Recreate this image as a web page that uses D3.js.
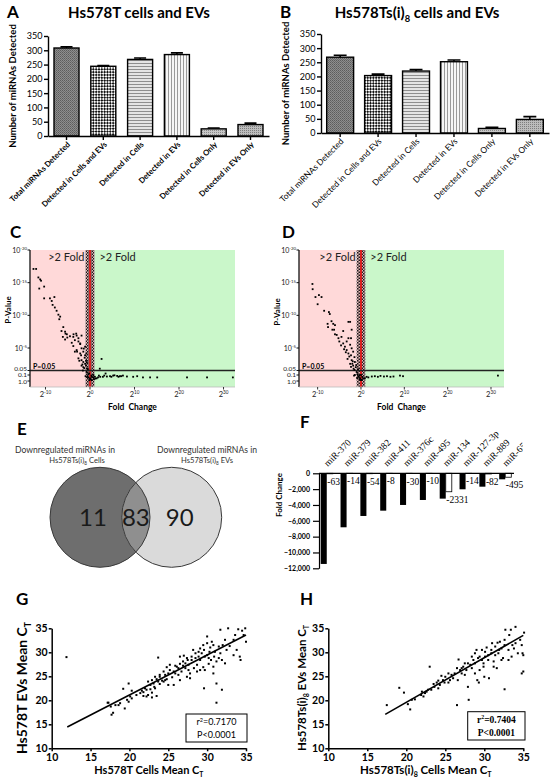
<!DOCTYPE html>
<html><head><meta charset="utf-8">
<script src="https://cdn.jsdelivr.net/npm/d3@7"></script>
<style>body{margin:0;background:#fff} svg{display:block}</style>
</head><body><svg id="c" width="550" height="779"></svg>
<script>
// ---------------- DATA ----------------
const barCats = ["Total miRNAs Detected","Detected in Cells and EVs","Detected in Cells","Detected in EVs","Detected in Cells Only","Detected in EVs Only"];
const barA = [308,244,268,285,25,40];
const errA = [4,3,5,6,3,5];
const barB = [268,203,219,252,16,48];
const errB = [7,5,5,6,4,10];
const barTicks = [0,50,100,150,200,250,300,350];

// volcano: [log2 fold change, -log10 p]
const volcC = [
[-12.7,17.1],[-12.1,17.1],[-11.6,15.8],[-11.2,15.5],[-11.0,15.3],[-11.4,14.1],[-10.3,14.4],[-10.3,12.6],[-9.0,12.6],[-8.0,12.8],[-8.6,12.2],[-8.4,11.6],[-7.9,11.2],[-7.5,10.7],[-7.1,10.1],[-6.7,9.8],[-6.9,9.4],[-6.0,8.2],[-5.6,7.5],[-5.2,7.1],[-6.1,6.7],[-5.6,6.3],[-3.75,6.7],[-3.0,6.9],[-1.9,6.9],[-3.4,6.2],[-2.6,6.0],[-2.2,5.6],
[-6.4,7.6],[-5.5,7.2],[-5.1,6.6],[-4.5,6.8],[-3.7,7.1],[-3.1,7.2],[-2.6,6.5],[-4.1,5.8],[-3.75,5.3],[-2.2,5.7],[-1.9,4.95],[-3.0,4.66],[-3.4,4.4],[-2.2,4.1],[-1.5,4.4],[-1.1,3.8],[-2.6,3.3],[-1.9,3.0],[-1.5,2.7],[-1.1,2.4],[-0.9,2.1],[-1.9,2.1],[-1.5,1.85],[-0.6,1.6],[-0.75,1.2],[-0.4,1.05],[-0.6,0.7],[0,0.45],[0.4,0.7],[0.75,1.0],[1.1,0.7],[-0.15,0.15],[0.4,0.15],[1.5,0.45],
[-1.2,3.4],[-0.9,2.9],[-1.7,2.3],[-0.7,2.6],[-1.3,1.7],[-0.5,1.5],[-0.2,1.1],[0.3,0.9],[-1.0,0.8],[-0.4,0.6],[0.1,0.3],[0.7,0.6],[1.2,0.4],[-1.6,1.3],[-2.4,2.9],[-2.0,3.8],[-2.9,4.4],[-1.4,4.9],[-0.8,4.1],[-1.1,5.2],
[2.6,3.2],[2.2,1.6],[3.5,1.1],[2.0,0.9],[1.8,0.6],[2.3,0.7],[3.2,0.9],[3.8,0.75],[4.8,0.7],[5.5,0.95],[6.4,0.7],[7.0,0.8],[0.9,0.3],
[2.9,0.7],[4.5,0.8],[5.2,0.9],[6.1,0.85],[6.7,0.8],[7.4,0.9],[8.3,0.75],[9.7,0.7],[10.6,0.8],[11.9,0.6],[13.5,0.6],[15.1,0.6],[21.8,0.6],[26.3,0.6],[32.1,0.6]
];
const volcD = [
[-11.2,14.8],[-11.15,14.0],[-10.5,12.8],[-9.7,13.1],[-9.1,12.8],[-10.0,11.7],[-8.5,10.7],[-7.4,10.5],[-7.2,10.2],[-6.8,9.1],[-6.4,8.7],[-6.0,8.5],[-7.7,8.7],[-7.6,8.2],[-6.6,7.8],[-6.0,7.1],[-5.2,6.5],[-4.1,7.6],[-2.5,9.0],
[-6.2,7.8],[-5.6,7.0],[-4.5,6.7],[-4.1,5.7],[-3.7,5.2],[-3.3,6.0],[-2.9,6.5],[-2.5,5.5],[-2.15,4.95],[-3.3,4.66],[-2.9,4.1],[-2.3,3.8],[-1.8,4.4],[-1.5,3.5],[-2.15,3.0],[-1.4,2.7],[-2.5,2.4],[-1.8,2.1],[-1.2,1.85],[-1.5,1.4],[-1.0,1.2],[-1.4,1.0],[-0.8,1.05],[-0.6,0.7],[-0.2,0.45],[0,1.0],[0.3,0.7],[0.5,0.45],[0,0.15],[0.9,0.45],[1.3,0.7],[1.7,0.6],
[-5.0,6.0],[-4.6,5.4],[-3.9,4.8],[-3.5,4.3],[-2.7,3.6],[-3.1,3.2],[-2.0,2.4],[-1.7,1.6],[-2.3,1.9],[-1.9,2.8],[-1.1,2.2],[-0.7,1.5],[-0.4,0.9],[-0.9,0.5],[-1.6,0.9],[0.2,0.2],[-0.3,0.3],
[-2.9,9.0],[-2.3,6.5],[-2.15,7.8],
[2.5,0.75],[3.2,0.8],[3.9,0.7],[4.5,0.85],[5.3,0.75],[6.0,0.8],[6.8,0.7],[7.5,0.75],[9.0,0.9],[9.7,0.8],[31.6,0.9]
];
const volcXTicks = [-10,0,10,20,30];
const volcYExpTicks = [20,15,10,5];
const volcYLowTicks = [1.301,1,0];
const volcYLowLabels = ["0.05","0.1","1.0"];

// Venn
const vennCounts = [11,83,90];

// F
const fCats = ["miR-370","miR-379","miR-382","miR-411","miR-376c","miR-495","miR-134","miR-127-3p","miR-889","miR-654-3p"];
const fCells = [-11450,-6820,-5390,-4720,-4000,-3370,-3200,-2020,-1690,-760];
const fEVs = [-63,-14,-54,-8,-30,-10,-2331,-14,-82,-495];
const fTicks = [0,-2000,-4000,-6000,-8000,-10000,-12000];

// G, H : [cells mean CT, EVs mean CT]
const ptsG = [
[11.9,29.0],[17.2,19.5],[17.6,18.7],[17.7,17.0],[18.2,19.0],[18.8,19.4],[19.2,22.4],[19.9,23.5],[19.9,19.7],[20.3,20.4],[20.9,21.1],
[23.7,28.9],[27.0,29.3],[30.0,33.3],[30.6,32.2],[31.7,34.7],[32.7,35.0],[33.4,32.6],[34.0,34.8],[34.5,34.5],[34.9,35.0],[34.7,33.6],[35.0,32.2],[34.2,29.1],[34.3,28.4],[33.4,29.4],[32.5,30.5],[32.3,27.7],
[29.6,22.5],[31.2,23.5],[31.9,22.2],[31.2,19.5],[29.7,26.3],[30.8,25.6],[28.7,26.0],[27.8,24.6],[25.7,23.2],[25.0,23.2],[26.5,24.2],[27.6,26.3],[27.2,27.7],[26.1,27.0],[25.2,26.3],[24.6,25.3],[23.9,24.9],[23.5,24.4],[23.1,23.5],[22.7,23.2],[22.2,22.2],[21.8,21.7],[22.4,21.1],[22.9,21.6],[23.3,22.5],[21.4,21.5],[22.2,20.8],[22.9,20.6],[23.5,20.9],[23.9,23.4],[24.4,23.9],[24.8,24.4],[25.5,24.8],[25.9,25.6],[26.3,25.3],[26.7,26.0],[27.2,26.7],[27.6,27.4],[28.0,28.4],[28.5,28.8],[28.9,29.1],[29.3,29.8],[29.6,30.5],[30.0,29.4],[30.3,30.1],[30.5,28.4],[30.9,29.1],[31.2,28.1],[31.5,31.2],[31.7,29.8],[32.0,31.5],[32.3,32.6],[32.9,31.3],[33.6,33.6],[33.8,30.5],
[29.1,28.4],[28.7,27.4],[28.3,26.7],[27.8,25.6],[27.4,24.9],[26.9,27.2],[26.3,26.7],[25.7,26.0],[25.0,25.6],[24.6,24.2],[24.2,24.1],[23.7,23.9],[23.2,22.8],[22.7,22.3],[21.8,20.9],[19.7,20.1],[20.1,20.8],[20.3,22.0],[19.4,18.3],[18.6,19.0],[17.9,17.4],[17.3,19.5],
[29.1,30.8],[28.5,29.8],[28.0,29.1],[27.5,28.4],[26.9,28.1],[26.5,27.6],[28.2,30.5],[28.9,30.1],[29.5,31.5],[30.0,31.9],[30.4,31.0],[30.8,31.5],[31.0,30.1],[31.5,28.8],[31.9,28.4],[30.8,27.0],[30.2,27.6],[29.5,26.9],[29.1,26.3],[30.2,28.8],[29.7,29.1],[26.5,29.1],[27.4,28.8],[25.2,27.4],[25.9,27.2],[24.4,26.0],[23.9,25.3],[24.8,26.9],[23.3,24.9],[22.9,24.2],[22.4,23.9],[22.0,22.5],[21.6,22.0]
];
const ptsH = [
[17.5,19.0],[19.1,22.6],[19.7,21.6],[20.2,19.2],[20.5,18.1],[20.7,20.1],[21.1,20.2],[21.9,21.1],[22.2,20.8],[22.6,21.8],[23.0,27.0],[23.2,22.2],[23.6,22.8],[23.9,23.7],[24.1,22.5],[24.3,23.2],[24.7,24.2],[25.0,24.9],[25.4,23.7],[25.6,24.2],[25.8,25.3],[26.2,25.6],[26.5,19.0],[26.6,24.2],[26.7,28.5],[26.9,26.3],[27.1,25.6],[27.3,27.0],[27.5,25.3],[27.7,26.3],[27.9,22.8],[28.0,20.1],[28.2,27.4],[28.4,26.7],[28.6,28.4],[28.8,27.7],[29.0,30.5],[29.1,24.2],[29.3,23.7],[29.4,29.1],[29.7,30.5],[29.9,27.7],[30.0,24.9],[30.1,29.1],[30.3,31.0],[30.5,28.4],[30.6,24.6],[30.9,29.8],[31.0,31.9],[31.2,28.1],[31.4,29.4],[31.6,26.7],[31.7,32.0],[31.9,30.5],[32.0,32.2],[32.2,28.4],[32.4,28.8],[32.6,31.5],[32.6,22.3],[32.7,34.7],[33.1,30.5],[33.2,33.6],[33.4,34.7],[33.6,31.5],[33.8,30.8],[34.0,35.3],[34.3,29.8],[34.6,32.6],[34.8,31.5],[34.9,29.8],[35.0,29.4],[34.8,25.6],[35.0,26.0],[35.1,34.1],
[27.9,27.7],[28.4,29.1],[28.8,29.8],[29.2,28.8],[29.7,28.4],[30.1,30.1],[30.5,29.4],[30.9,30.5],[31.4,31.2],[31.8,29.8],[32.2,30.8],[32.6,32.6],[26.0,24.6],[26.5,26.7],[27.1,26.7],[27.5,27.7],[25.4,25.6],[24.5,25.1],[24.9,23.7],[24.1,24.1],[23.5,23.4],[22.8,22.2],[22.4,21.5],[22.0,21.8],[33.1,28.4],[33.5,29.1],[34.0,31.9],[29.4,26.3],[29.9,27.0],[28.8,25.6],[31.2,27.0]
];
const ctTicks = [10,15,20,25,30,35];
const fitG = [0.832, 4.47, 12, 35];   // slope, intercept, x from, x to
const fitH = [0.93, 0.97, 17.3, 35];
const statG = ["r²=0.7170","P<0.0001"];
const statH = ["r²=0.7404","P<0.0001"];

// ---------------- DRAW ----------------
const SANS = "Lato, 'Open Sans', 'Liberation Sans', sans-serif";
const SERIF = "'Liberation Serif', 'DejaVu Serif', serif";
const svg = d3.select("#c");
svg.append("rect").attr("width",550).attr("height",779).attr("fill","#fff");
const defs = svg.append("defs");
function addPat(id,w,h,bg,rects,rot){
  const p = defs.append("pattern").attr("id",id).attr("patternUnits","userSpaceOnUse").attr("width",w).attr("height",h);
  if(rot) p.attr("patternTransform",`rotate(${rot})`);
  p.append("rect").attr("width",w).attr("height",h).attr("fill",bg);
  rects.forEach(r=>p.append("rect").attr("x",r[0]).attr("y",r[1]).attr("width",r[2]).attr("height",r[3]).attr("fill",r[4]));
}
addPat("pTotal",2,2,"#8e8e8e",[[0,0,1,1,"#5c5c5c"],[1,1,1,1,"#6c6c6c"]]);
addPat("pCheck",4,4,"#fff",[[0,0,2,2,"#111"],[2,2,2,2,"#111"]],45);
addPat("pHoriz",3,3,"#e4e4e4",[[0,0,3,1,"#8e8e8e"]]);
addPat("pVert",3,3,"#f6f6f6",[[0,0,1,3,"#9a9a9a"]]);
addPat("pDots",2,2,"#c6c6c6",[[0,0,1,1,"#8a8a8a"]]);
addPat("pDots2",2,2,"#bcbcbc",[[0,0,1,1,"#7e7e7e"]]);
addPat("pBand",3,3,"#e6b8b8",[[0,0,1.5,1.5,"#1a1a1a"],[1.5,1.5,1.5,1.5,"#1a1a1a"]]);
const barPats = ["pTotal","pCheck","pHoriz","pVert","pDots","pDots2"];

function letter(t,x,y){ svg.append("text").attr("x",x).attr("y",y).text(t).attr("font-family",SANS).attr("font-weight",700).attr("font-size",17).attr("fill","#000"); }
function rich(sel, parts, size){
  let shift = 0;
  parts.forEach(p=>{
    const ts = sel.append("tspan").text(p[0]);
    const want = p[1]==="sub" ? size*0.28 : p[1]==="sup" ? -size*0.38 : 0;
    ts.attr("dy", want - shift); shift = want;
    if(p[1]) ts.attr("font-size", size*0.62);
  });
  return sel;
}
function styleAxis(g, sw, fs, fw, fam){
  g.attr("font-family",fam).attr("font-size",fs).attr("font-weight",fw);
  g.selectAll("path.domain").attr("stroke","#000").attr("stroke-width",sw);
  g.selectAll(".tick line").attr("stroke","#000").attr("stroke-width",sw);
  g.selectAll(".tick text").attr("fill","#000");
}

// ----- A / B bar panels
function barPanel(o){
  const g = svg.append("g");
  const y = d3.scaleLinear().domain([0,350]).range([o.yBase,o.yTop]);
  const x = d3.scaleBand().domain(barCats).range([o.xAxis,o.xEnd]).paddingInner(o.pi).paddingOuter(o.po);
  g.selectAll(".bar").data(o.vals).join("rect")
    .attr("x",(d,i)=>x(barCats[i])).attr("y",d=>y(d)).attr("width",x.bandwidth()).attr("height",d=>y(0)-y(d))
    .attr("fill",(d,i)=>`url(#${barPats[i]})`).attr("stroke","#000").attr("stroke-width",1.4);
  const cap = x.bandwidth()*0.48;
  g.selectAll(".eb").data(o.vals).join("path")
    .attr("d",(d,i)=>{const cx=x(barCats[i])+x.bandwidth()/2, t=y(d+o.errs[i]); return `M${cx},${y(d)}V${t}M${cx-cap/2},${t}H${cx+cap/2}`;})
    .attr("stroke","#000").attr("stroke-width",1.6).attr("fill","none");
  const ya = g.append("g").attr("transform",`translate(${o.xAxis},0)`)
    .call(d3.axisLeft(y).tickValues(barTicks).tickSize(4).tickSizeOuter(0).tickPadding(1.5));
  styleAxis(ya,1.4,9,400,SANS);
  const xa = g.append("g").attr("transform",`translate(0,${y(0)})`)
    .call(d3.axisBottom(x).tickSize(4).tickSizeOuter(0).tickFormat(""));
  styleAxis(xa,1.4,9,400,SANS);
  g.selectAll(".xl").data(barCats).join("text")
    .attr("transform",d=>`translate(${x(d)+x.bandwidth()/2+4},${y(0)+9}) rotate(-45)`)
    .attr("text-anchor","end").attr("font-family",SANS).attr("font-size",o.xls).attr("font-weight",o.xlw).text(d=>d);
  g.append("text").attr("transform",`translate(${o.xAxis-32},${(o.yBase+o.yTop)/2}) rotate(-90)`)
    .attr("text-anchor","middle").attr("font-family",SANS).attr("font-weight",700).attr("font-size",9.5).text("Number of miRNAs Detected");
}
barPanel({vals:barA,errs:errA,yBase:136,yTop:36,xAxis:48,xEnd:269,pi:0.32,po:0.163,xlw:700,xls:7.8});
barPanel({vals:barB,errs:errB,yBase:133,yTop:34,xAxis:321,xEnd:549,pi:0.29,po:0.15,xlw:400,xls:8.4});
letter("A",7,18); letter("B",280,18);
svg.append("text").attr("x",139).attr("y",18).attr("text-anchor","middle").attr("font-family",SANS).attr("font-weight",700).attr("font-size",15).text("Hs578T cells and EVs");
rich(svg.append("text").attr("x",417).attr("y",18).attr("text-anchor","middle").attr("font-family",SANS).attr("font-weight",700).attr("font-size",15),
  [["Hs578Ts(i)"],["8","sub"],[" cells and EVs"]],15);

// ----- C / D volcano
const lpKnots = [0,1,1.301,5,20];
function volcano(o){
  const g = svg.append("g");
  const x = d3.scaleLinear().domain(o.xdom).range([o.xl,o.xr]);
  const y = d3.scaleLinear().domain(lpKnots).range([381,375,370.5,348,250]);
  const top = y(20), bot = 387;
  g.append("rect").attr("x",o.xl).attr("y",top).attr("width",x(-1)-o.xl).attr("height",bot-top).attr("fill","#ffd9d9");
  g.append("rect").attr("x",x(1)).attr("y",top).attr("width",o.xr-x(1)).attr("height",bot-top).attr("fill","#caf7ca");
  g.append("rect").attr("x",x(-1)).attr("y",top).attr("width",x(1)-x(-1)).attr("height",bot-top).attr("fill","url(#pBand)");
  g.append("line").attr("x1",x(0)).attr("x2",x(0)).attr("y1",top).attr("y2",bot).attr("stroke","#d92020").attr("stroke-width",2);
  g.append("text").attr("x",x(-1)-1).attr("y",top+11).attr("text-anchor","end").attr("font-family",SANS).attr("font-size",11).attr("fill","#222").text(">2 Fold");
  g.append("text").attr("x",x(1)+5).attr("y",top+11).attr("font-family",SANS).attr("font-size",11).attr("fill","#222").text(">2 Fold");
  g.append("line").attr("x1",o.xl).attr("x2",o.xr).attr("y1",y(1.301)).attr("y2",y(1.301)).attr("stroke","#222").attr("stroke-width",1.6);
  g.append("text").attr("x",o.xl+3).attr("y",y(1.301)-2).attr("font-family",SANS).attr("font-weight",700).attr("font-size",7).text("P=0.05");
  g.selectAll(".pt").data(o.data).join("rect").attr("x",d=>x(d[0])-0.9).attr("y",d=>y(d[1])-0.9).attr("width",1.8).attr("height",1.8).attr("fill","#000");
  // y axis
  g.append("line").attr("x1",o.xl).attr("x2",o.xl).attr("y1",top).attr("y2",bot).attr("stroke","#111").attr("stroke-width",1.3);
  const lowDy = [0,2,2.6];
  const yt = volcYExpTicks.map(v=>({v,dy:2.5,fs:7,lab:[["10"],["-"+v,"sup"]]})).concat(volcYLowTicks.map((v,i)=>({v,dy:lowDy[i],fs:6.5,lab:[[volcYLowLabels[i]]]})));
  yt.forEach(t=>{
    g.append("line").attr("x1",o.xl-2.5).attr("x2",o.xl).attr("y1",y(t.v)).attr("y2",y(t.v)).attr("stroke","#111");
    rich(g.append("text").attr("x",o.xl-3).attr("y",y(t.v)+t.dy).attr("text-anchor","end").attr("font-family",SANS).attr("font-size",t.fs).attr("fill","#222"),t.lab,t.fs);
  });
  // x axis
  g.append("line").attr("x1",o.xl).attr("x2",o.xr).attr("y1",bot).attr("y2",bot).attr("stroke","#bbb").attr("stroke-width",0.8);
  volcXTicks.forEach(v=>{
    g.append("line").attr("x1",x(v)).attr("x2",x(v)).attr("y1",bot).attr("y2",bot+2.5).attr("stroke","#333");
    rich(g.append("text").attr("x",x(v)).attr("y",bot+10).attr("text-anchor","middle").attr("font-family",SANS).attr("font-size",7.5).attr("fill","#222"),[["2"],[String(v),"sup"]],7.5);
  });
  g.append("text").attr("x",(o.xl+o.xr)/2).attr("y",410).attr("text-anchor","middle").attr("font-family",SANS).attr("font-weight",700).attr("font-size",8.5).attr("word-spacing",2).text("Fold Change");
  g.append("text").attr("transform",`translate(${o.xl-19},${o.ylab}) rotate(-90)`).attr("text-anchor","middle").attr("font-family",SANS).attr("font-weight",700).attr("font-size",8).text("P-Value");
}
volcano({data:volcC,xdom:[-13.48,32.58],xl:30,xr:235,ylab:310});
volcano({data:volcD,xdom:[-14.3,33.0],xl:299,xr:504,ylab:312});
letter("C",10,238); letter("D",282,238);

// ----- E Venn
letter("E",17,435);
{
  const g = svg.append("g");
  const r = 50, cy = 517.3, cL = 100, cR = 171.7;
  const circ = [{cx:cL,fill:"#6e6e6e"},{cx:cR,fill:"#dadada"}];
  defs.append("clipPath").attr("id","clipL").append("circle").attr("cx",cL).attr("cy",cy).attr("r",r);
  g.selectAll(".vc").data(circ).join("circle").attr("cx",d=>d.cx).attr("cy",cy).attr("r",r).attr("fill",d=>d.fill);
  g.append("circle").attr("cx",cR).attr("cy",cy).attr("r",r).attr("fill","#8f8f8f").attr("clip-path","url(#clipL)");
  g.selectAll(".vs").data(circ).join("circle").attr("cx",d=>d.cx).attr("cy",cy).attr("r",r).attr("fill","none").attr("stroke","#3a3a3a").attr("stroke-width",1);
  const numX = [cL-7,(cL+cR)/2,cR+8];
  g.selectAll(".vn").data(vennCounts).join("text").attr("x",(d,i)=>numX[i]).attr("y",cy+8.5).attr("text-anchor","middle")
    .attr("font-family",SANS).attr("font-size",24).attr("fill","#1a1a1a").text(d=>d);
  const lab = (x,l2)=>{
    g.append("text").attr("x",x).attr("y",452.5).attr("text-anchor","middle").attr("font-family",SANS).attr("font-size",8.6).attr("fill","#333").text("Downregulated miRNAs in");
    rich(g.append("text").attr("x",x+l2[0]).attr("y",463).attr("text-anchor","middle").attr("font-family",SANS).attr("font-size",7.6).attr("fill","#333"),[["Hs578Ts(i)"],["8","sub"],[l2[1]]],7.6);
  };
  lab(65,[12," Cells"]); lab(207,[0," EVs"]);
}

// ----- F
letter("F",300,428);
{
  const g = svg.append("g");
  const y = d3.scaleLinear().domain([-12000,0]).range([568.3,473.3]);
  const x = d3.scaleBand().domain(fCats).range([319,513]).paddingInner(0.39).paddingOuter(0.086);
  const bw = x.bandwidth()/2;
  g.selectAll(".fb").data(fCells).join("rect").attr("x",(d,i)=>x(fCats[i])).attr("y",y(0)).attr("width",bw).attr("height",d=>y(d)-y(0)).attr("fill","#000");
  g.selectAll(".fw").data(fEVs).join("rect").attr("x",(d,i)=>x(fCats[i])+bw).attr("y",y(0)).attr("width",bw).attr("height",d=>y(d)-y(0)).attr("fill","#fff").attr("stroke","#000").attr("stroke-width",0.8);
  g.append("line").attr("x1",319).attr("x2",514).attr("y1",y(0)).attr("y2",y(0)).attr("stroke","#000").attr("stroke-width",1.2);
  const ya = g.append("g").attr("transform","translate(319,0)").call(d3.axisLeft(y).tickValues(fTicks).tickSize(6).tickSizeOuter(0).tickPadding(3));
  styleAxis(ya,1.2,7,700,SANS);
  g.selectAll(".fl").data(fEVs).join("text").attr("x",(d,i)=>x(fCats[i])+bw+0.5).attr("y",d=>y(d)+11)
    .attr("font-family",SERIF).attr("font-size",9.5).text(d=>String(d));
  defs.append("clipPath").attr("id","clipF").append("rect").attr("x",300).attr("y",400).attr("width",223).attr("height",80);
  g.append("g").attr("clip-path","url(#clipF)").selectAll(".fc").data(fCats).join("text")
    .attr("transform",d=>`translate(${x(d)+bw+1},467) rotate(-45)`).attr("font-family",SERIF).attr("font-size",9.5).text(d=>d);
  g.append("text").attr("transform","translate(282,495) rotate(-90)").attr("text-anchor","middle").attr("font-family",SANS).attr("font-weight",700).attr("font-size",8).text("Fold Change");
}

// ----- G / H scatter
function scatter(o){
  const g = svg.append("g");
  const x = d3.scaleLinear().domain([10,35]).range([o.xl,o.xr]);
  const y = d3.scaleLinear().domain([10,35]).range([748.3,628.3]);
  g.selectAll(".sp").data(o.pts).join("rect").attr("x",d=>x(d[0])-1).attr("y",d=>y(d[1])-1).attr("width",2).attr("height",2).attr("fill","#000");
  const f = o.fit;
  g.append("line").attr("x1",x(f[2])).attr("y1",y(f[0]*f[2]+f[1])).attr("x2",x(f[3])).attr("y2",y(f[0]*f[3]+f[1])).attr("stroke","#000").attr("stroke-width",1.6);
  const xa = g.append("g").attr("transform",`translate(0,${y(10)})`).call(d3.axisBottom(x).tickValues(ctTicks).tickSize(3).tickSizeOuter(0).tickPadding(2));
  styleAxis(xa,1.5,10.5,700,SANS);
  const ya = g.append("g").attr("transform",`translate(${o.xl},0)`).call(d3.axisLeft(y).tickValues(ctTicks).tickSize(3).tickSizeOuter(0).tickPadding(1));
  styleAxis(ya,1.5,10.5,700,SANS);
  const bx = o.box;
  g.append("rect").attr("x",bx[0]).attr("y",bx[1]).attr("width",bx[2]).attr("height",bx[3]).attr("fill","#fff").attr("stroke","#000").attr("stroke-width",1);
  o.stat.forEach((s,i)=>{
    const t = g.append("text").attr("x",bx[0]+bx[2]/2).attr("y",bx[1]+11+i*13).attr("text-anchor","middle").attr("font-family",o.statFam).attr("font-weight",o.statW).attr("font-size",o.statS);
    if(s.startsWith("r²")) rich(t,[["r"],["2","sup"],[s.slice(2)]],o.statS); else t.text(s);
  });
  rich(g.append("text").attr("x",(o.xl+o.xr)/2).attr("y",773.5).attr("text-anchor","middle").attr("font-family",SANS).attr("font-weight",700).attr("font-size",o.xtS),o.xt,o.xtS);
  rich(g.append("text").attr("transform",`translate(${o.ytx},688) rotate(-90)`).attr("text-anchor","middle").attr("font-family",SANS).attr("font-weight",700).attr("font-size",o.ytS),o.yt,o.ytS);
}
scatter({pts:ptsG,fit:fitG,xl:51.7,xr:246,box:[186,714,61,28],stat:statG,statFam:SANS,statW:400,statS:9,
  xt:[["Hs578T Cells Mean C"],["T","sub"]],xtS:11,yt:[["Hs578T EVs Mean C"],["T","sub"]],ytS:14,ytx:27});
scatter({pts:ptsH,fit:fitH,xl:328.3,xr:523.3,box:[467.7,711.7,57.3,28.3],stat:statH,statFam:SERIF,statW:700,statS:9.5,
  xt:[["Hs578Ts(i)"],["8","sub"],[" Cells Mean C"],["T","sub"]],xtS:11.5,yt:[["Hs578Ts(i)"],["8","sub"],[" EVs Mean C"],["T","sub"]],ytS:11.5,ytx:306});
letter("G",16,605); letter("H",300,605);
</script></body></html>
